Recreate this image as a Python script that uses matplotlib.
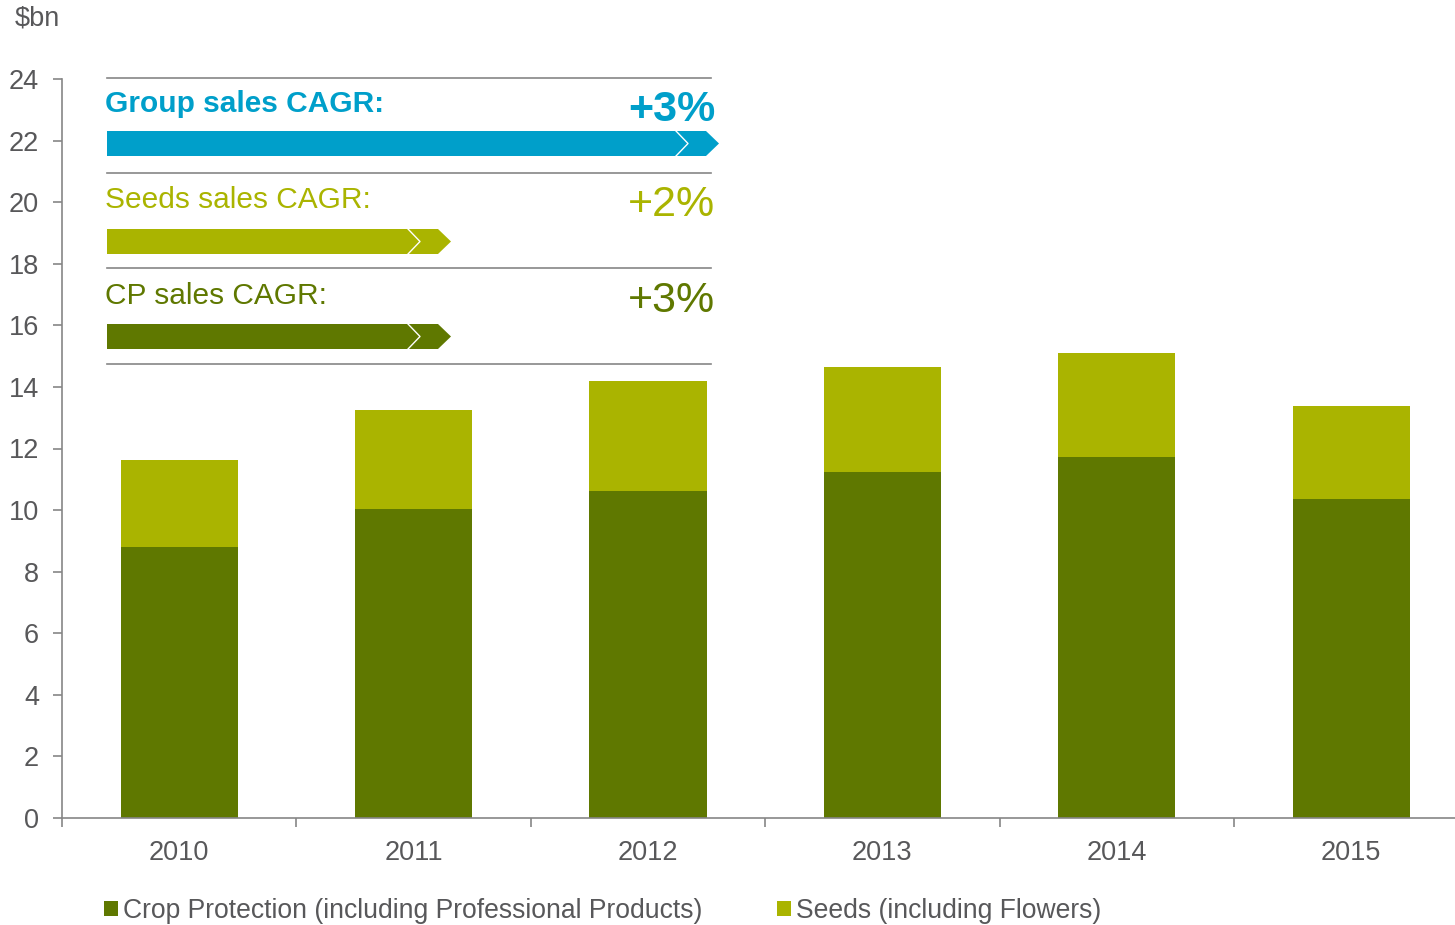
import matplotlib
matplotlib.use("Agg")
import matplotlib.pyplot as plt
from matplotlib.patches import Polygon
from matplotlib.lines import Line2D

plt.rcParams['font.family'] = ['Liberation Sans', 'DejaVu Sans']

# ---- data ----
years = ["2010", "2011", "2012", "2013", "2014", "2015"]
crop_protection = [8.80, 10.04, 10.62, 11.24, 11.72, 10.36]
seeds = [2.83, 3.21, 3.57, 3.41, 3.38, 3.02]
cagr_labels = ["Group sales CAGR:", "Seeds sales CAGR:", "CP sales CAGR:"]
cagr_values = ["+3%", "+2%", "+3%"]
legend_labels = ["Crop Protection (including Professional Products)",
                 "Seeds (including Flowers)"]
yticks = list(range(0, 25, 2))

# ---- style ----
C_CP = "#5f7800"
C_SEEDS = "#aab400"
C_BLUE = "#009fca"
C_TEXT = "#58585a"
C_AXIS = "#868686"

W, H = 1455, 925
fig = plt.figure(figsize=(W / 100, H / 100), dpi=100)

def fx(px):
    return px / W

def fy(py):
    return 1 - py / H

ax = fig.add_axes([fx(62), fy(818), 1 - fx(62), fy(79) - fy(818)])

x = list(range(len(years)))
ax.bar(x, crop_protection, width=0.5, color=C_CP, label=legend_labels[0])
ax.bar(x, seeds, width=0.5, bottom=crop_protection, color=C_SEEDS,
       label=legend_labels[1])

ax.set_yticks(yticks)
ax.set_xticks(x)
ax.set_xticklabels(years)
ax.set_xticks([i - 0.5 for i in range(len(years))], minor=True)
ax.set_ylim(0, 24)
ax.set_xlim(-0.5, 5.443)

for s in ["top", "right"]:
    ax.spines[s].set_visible(False)
for s in ["left", "bottom"]:
    ax.spines[s].set_color(C_AXIS)
    ax.spines[s].set_linewidth(1.2)

ax.tick_params(axis="y", length=6.5, width=1.2, color=C_AXIS, pad=10,
               labelsize=19.5, labelcolor=C_TEXT)
ax.tick_params(axis="x", which="major", length=0, pad=16,
               labelsize=19.5, labelcolor=C_TEXT)
ax.tick_params(axis="x", which="minor", length=6.5, width=1.2, color=C_AXIS)

fig.text(fx(15), fy(19), r"\$bn", fontsize=19.5, color=C_TEXT,
         ha="left", va="center")

# ---- CAGR panel ----
for yline in [78, 173, 268, 364]:
    fig.add_artist(Line2D([fx(107), fx(711)], [fy(yline), fy(yline)],
                          color=C_AXIS, lw=1.2, transform=fig.transFigure))

def arrow(x0, x1, ytop, ybot, color):
    ym = (ytop + ybot) / 2
    pts = [(x0, ytop), (x1 - 13, ytop), (x1, ym), (x1 - 13, ybot), (x0, ybot)]
    fig.add_artist(Polygon([(fx(a), fy(b)) for a, b in pts], closed=True,
                           facecolor=color, edgecolor="none",
                           transform=fig.transFigure))
    ch = [(x1 - 43, ytop), (x1 - 31, ym), (x1 - 43, ybot)]
    fig.add_artist(Line2D([fx(a) for a, b in ch], [fy(b) for a, b in ch],
                          color="white", lw=1.0, transform=fig.transFigure))

arrow(107, 719, 131, 156, C_BLUE)
arrow(107, 451, 229, 254, C_SEEDS)
arrow(107, 451, 324, 349, C_CP)

label_cols = [C_BLUE, C_SEEDS, C_CP]
label_base = [112, 208, 304]
value_base = [121, 216, 312]
weights = ["bold", "normal", "normal"]
for lab, val, col, lb, vb, wt in zip(cagr_labels, cagr_values, label_cols,
                                     label_base, value_base, weights):
    fig.text(fx(105), fy(lb), lab, fontsize=21.5, color=col, fontweight=wt,
             ha="left", va="baseline")
    fig.text(fx(715), fy(vb), val, fontsize=31, color=col, fontweight=wt,
             ha="right", va="baseline")

# ---- legend ----
handles, labels = ax.get_legend_handles_labels()
leg = fig.legend(handles, labels, loc="center left",
                 bbox_to_anchor=(fx(104), fy(911)), ncol=2, frameon=False,
                 fontsize=19.1, handlelength=0.53, handleheight=0.53,
                 handletextpad=0.2, columnspacing=2.8, borderpad=0,
                 borderaxespad=0)
for t in leg.get_texts():
    t.set_color(C_TEXT)

fig.savefig("out.png", dpi=100)
